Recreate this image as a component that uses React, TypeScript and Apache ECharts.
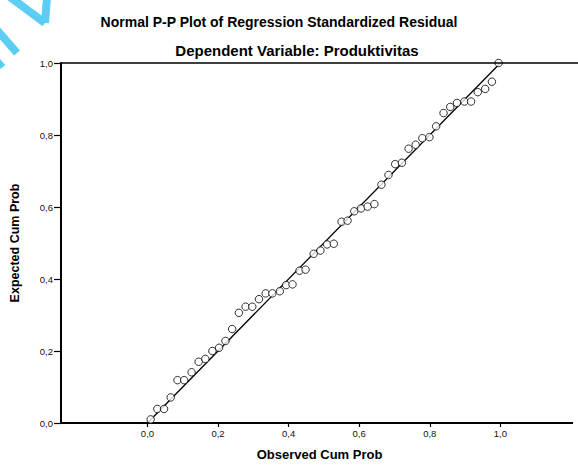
import React, { useEffect, useRef } from "react";
import * as echarts from "echarts";

const observedCumProb = [
  0.009, 0.028, 0.047, 0.066, 0.085, 0.104, 0.125, 0.145, 0.164, 0.184,
  0.203, 0.221, 0.240, 0.259, 0.278, 0.297, 0.316, 0.335, 0.354, 0.375,
  0.393, 0.411, 0.431, 0.448, 0.471, 0.490, 0.509, 0.528, 0.550, 0.567,
  0.586, 0.605, 0.624, 0.643, 0.663, 0.683, 0.702, 0.721, 0.740, 0.760,
  0.779, 0.799, 0.818, 0.839, 0.858, 0.877, 0.898, 0.917, 0.936, 0.957,
  0.976, 0.995,
];
const expectedCumProb = [
  0.010, 0.039, 0.039, 0.071, 0.119, 0.119, 0.141, 0.170, 0.178, 0.200,
  0.209, 0.228, 0.261, 0.306, 0.323, 0.323, 0.344, 0.360, 0.360, 0.366,
  0.383, 0.385, 0.423, 0.426, 0.470, 0.479, 0.496, 0.498, 0.559, 0.562,
  0.588, 0.596, 0.601, 0.608, 0.662, 0.689, 0.719, 0.723, 0.762, 0.773,
  0.791, 0.794, 0.824, 0.861, 0.878, 0.889, 0.893, 0.893, 0.919, 0.928,
  0.948, 1.0,
];
const referenceLine = [
  [0, 0],
  [1, 1],
];
const xTickValues = [0, 0.2, 0.4, 0.6, 0.8, 1.0];
const topFrameValue = 1;

const fmt = (v: number) => v.toFixed(1).replace(".", ",");

export default function App() {
  const ref = useRef<HTMLDivElement>(null);
  useEffect(() => {
    if (!ref.current) return;
    const chart = echarts.init(ref.current, undefined, { renderer: "svg" });
    const font = "Liberation Sans, Arial, sans-serif";
    const cyan = "#5ccdf3";
    chart.setOption({
      animation: false,
      backgroundColor: "#ffffff",
      textStyle: { fontFamily: font },
      title: [
        {
          text: "Normal P-P Plot of Regression Standardized Residual",
          left: 274,
          top: 10,
          textAlign: "center",
          textStyle: { fontSize: 14, fontWeight: "bold", color: "#000", fontFamily: font },
        },
        {
          text: "Dependent Variable: Produktivitas",
          left: 292,
          top: 38,
          textAlign: "center",
          textStyle: { fontSize: 15, fontWeight: "bold", color: "#000", fontFamily: font },
        },
      ],
      grid: { left: 60, top: 63, right: 0, bottom: 40.5, show: false },
      xAxis: {
        type: "value",
        min: -0.245,
        max: 1.22,
        name: "Observed Cum Prob",
        nameLocation: "middle",
        nameGap: 25,
        nameTextStyle: { fontSize: 13, fontWeight: "bold", color: "#000", fontFamily: font },
        axisLine: { show: true, onZero: false, lineStyle: { color: "#000", width: 2 } },
        axisTick: { show: true, length: 4, customValues: xTickValues, lineStyle: { color: "#000", width: 1.2 } },
        axisLabel: {
          customValues: xTickValues,
          formatter: (v: number) => fmt(v),
          fontSize: 9.5,
          color: "#111",
          margin: 5,
        },
        splitLine: { show: false },
      },
      yAxis: {
        type: "value",
        min: 0,
        max: 1,
        interval: 0.2,
        position: "left",
        name: "Expected Cum Prob",
        nameLocation: "middle",
        nameGap: 40,
        nameTextStyle: { fontSize: 12.5, fontWeight: "bold", color: "#000", fontFamily: font },
        axisLine: { show: true, onZero: false, lineStyle: { color: "#000", width: 2 } },
        axisTick: { show: true, length: 7, lineStyle: { color: "#000", width: 1.2 } },
        axisLabel: { formatter: (v: number) => fmt(v), fontSize: 9.5, color: "#111", margin: 8 },
        splitLine: { show: false },
      },
      graphic: [
        { type: "line", shape: { x1: 10, y1: -3, x2: 45, y2: 23 }, style: { stroke: cyan, lineWidth: 8 } },
        { type: "line", shape: { x1: 47, y1: -3, x2: 45, y2: 23 }, style: { stroke: cyan, lineWidth: 8 } },
        { type: "line", shape: { x1: -3, y1: 30, x2: 17, y2: 53 }, style: { stroke: cyan, lineWidth: 8 } },
        { type: "line", shape: { x1: -3, y1: 60, x2: 3, y2: 67 }, style: { stroke: cyan, lineWidth: 6 } },
        {
          type: "rect",
          z: 100,
          shape: { x: 573, y: 65, width: 6, height: 359 },
          style: { fill: "#ffffff" },
        },
      ],
      series: [
        {
          type: "line",
          data: referenceLine,
          showSymbol: false,
          symbol: "none",
          lineStyle: { color: "#000", width: 1.3 },
          z: 2,
          markLine: {
            silent: true,
            symbol: "none",
            label: { show: false },
            lineStyle: { type: "solid", color: "#000", width: 1.6 },
            data: [{ yAxis: topFrameValue }],
          },
        },
        {
          type: "scatter",
          data: observedCumProb.map((x, i) => [x, expectedCumProb[i]]),
          symbol: "circle",
          symbolSize: 7.5,
          itemStyle: { color: "#fff", borderColor: "#000", borderWidth: 1 },
          z: 3,
        },
      ],
    });
    return () => chart.dispose();
  }, []);
  return (
    <div
      ref={ref}
      style={{ position: "absolute", left: 0, top: 0, width: 578, height: 466 }}
    />
  );
}
